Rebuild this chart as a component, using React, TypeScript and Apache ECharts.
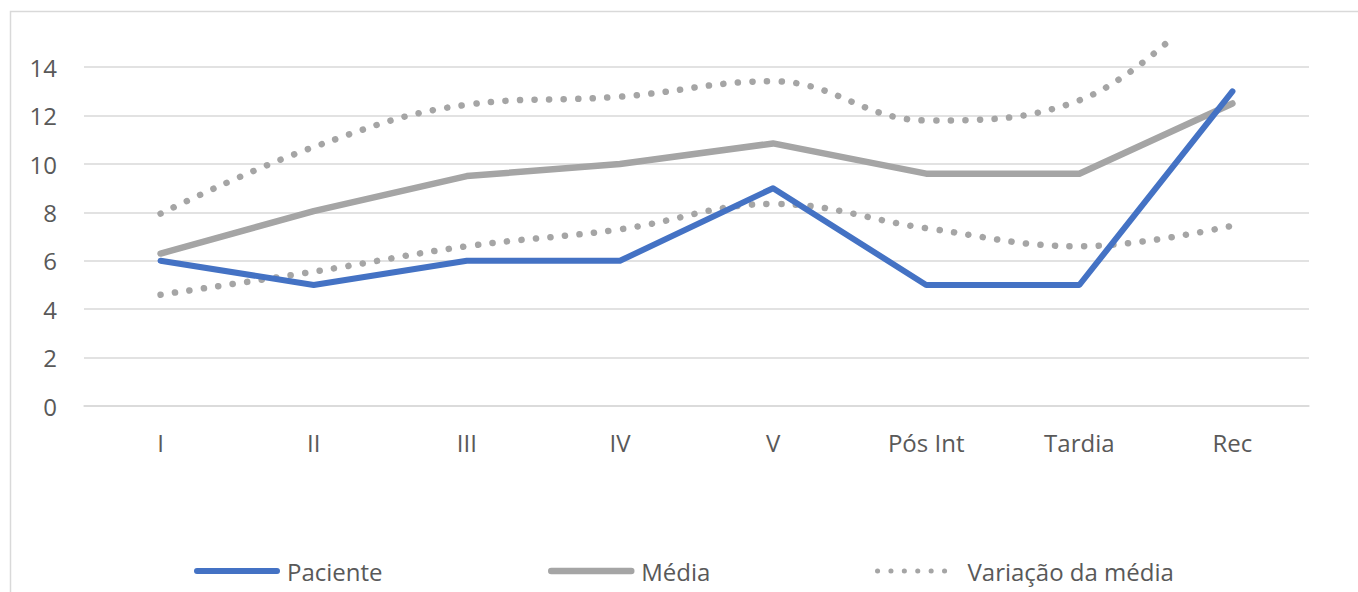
import React, { useEffect, useRef } from "react";
import * as echarts from "echarts";

const categories = ["I", "II", "III", "IV", "V", "Pós Int", "Tardia", "Rec"];
const paciente = [6, 5, 6, 6, 9, 5, 5, 13];
const media = [6.3, 8.05, 9.5, 10, 10.85, 9.6, 9.6, 12.5];
const variacaoSuperior = [7.95, 10.7, 12.45, 12.78, 13.42, 11.8, 12.63, 17.7];
const variacaoInferior = [4.6, 5.55, 6.6, 7.3, 8.35, 7.35, 6.6, 7.45];
const yTicks = [0, 2, 4, 6, 8, 10, 12, 14];

const FONT = "'Open Sans', sans-serif";
const TEXT = "#595959";
const GRID = "#D9D9D9";
const BLUE = "#4472C4";
const GREY = "#A5A5A5";

export default function App() {
  const ref = useRef<HTMLDivElement>(null);
  useEffect(() => {
    if (!ref.current) return;
    const chart = echarts.init(ref.current, undefined, { renderer: "svg" });
    const dotted = {
      width: 6.5,
      color: GREY,
      type: [0.1, 14.5] as any,
      cap: "round" as const,
    };
    const legendText = { fontFamily: FONT, fontSize: 24, color: TEXT, padding: [0, 0, 0, 5] };
    const legendCommon = {
      top: 554,
      itemWidth: 80,
      itemHeight: 14,
      itemGap: 6,
      textStyle: legendText,
      itemStyle: { opacity: 0 },
      lineStyle: { width: "inherit", type: "inherit", cap: "round" },
    };
    chart.setOption({
      animation: false,
      textStyle: { fontFamily: FONT },
      graphic: [
        {
          type: "rect",
          shape: { x: 10.5, y: 11.5, width: 1500, height: 800 },
          style: { fill: "none", stroke: GRID, lineWidth: 1.5 },
          silent: true,
          z: -10,
        },
      ],
      grid: { left: 84, right: 49, top: 43, bottom: 186, containLabel: false },
      legend: [
        { ...legendCommon, data: ["Paciente"], left: 189 },
        { ...legendCommon, data: ["Média"], left: 543 },
        {
          ...legendCommon,
          data: ["Variação da média"],
          left: 870,
          lineStyle: { width: 5, type: [0.1, 13.3], cap: "round" },
        },
      ],
      xAxis: {
        type: "category",
        data: categories,
        boundaryGap: true,
        axisLine: { show: true, lineStyle: { color: GRID, width: 1.5 } },
        axisTick: { show: false },
        axisLabel: { color: TEXT, fontSize: 24, fontFamily: FONT, margin: 24 },
      },
      yAxis: {
        type: "value",
        min: 0,
        max: 15,
        interval: 2,
        axisLine: { show: false },
        axisTick: { show: false },
        axisLabel: {
          color: TEXT,
          fontSize: 24,
          fontFamily: FONT,
          margin: 27,
          showMaxLabel: false,
          formatter: (v: number) => (yTicks.includes(v) ? String(v) : ""),
        },
        splitLine: {
          show: true,
          lineStyle: {
            color: [GRID, GRID, GRID, GRID, GRID, GRID, GRID, GRID, "rgba(0,0,0,0)"],
            width: 1.5,
          },
        },
      },
      series: [
        {
          name: "Paciente",
          type: "line",
          data: paciente,
          symbol: "none",
          lineStyle: { width: 6, color: BLUE, cap: "round", join: "round" },
          itemStyle: { color: BLUE },
          z: 4,
        },
        {
          name: "Média",
          type: "line",
          data: media,
          symbol: "none",
          lineStyle: { width: 6.5, color: GREY, cap: "round", join: "round" },
          itemStyle: { color: GREY },
          z: 3,
        },
        {
          name: "Variação da média",
          type: "line",
          data: variacaoSuperior,
          symbol: "none",
          smooth: 0.4,
          lineStyle: dotted,
          itemStyle: { color: GREY },
          z: 2,
        },
        {
          name: "Variação da média",
          type: "line",
          data: variacaoInferior,
          symbol: "none",
          smooth: 0.4,
          lineStyle: dotted,
          itemStyle: { color: GREY },
          z: 2,
        },
      ],
    });
    return () => chart.dispose();
  }, []);
  return (
    <div
      ref={ref}
      style={{ position: "absolute", left: 0, top: 0, width: 1358, height: 592 }}
    />
  );
}
